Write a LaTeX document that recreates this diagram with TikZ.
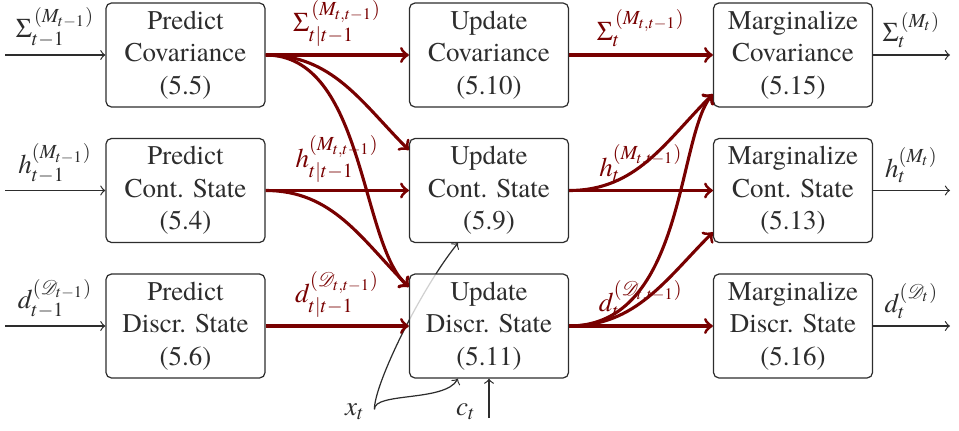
\documentclass[tikz,border=0pt]{standalone}
\usepackage{mathptmx}
\usepackage[no-math]{fontspec}
\setmainfont{TeX Gyre Termes}
\usetikzlibrary{calc}
\definecolor{dred}{RGB}{120,0,0}
\definecolor{dgray}{RGB}{45,45,45}
\tikzset{
  blk/.style={draw=dgray, line width=0.45pt, rounded corners=2pt, fill=white, fill opacity=0.78, text opacity=1,
    text=dgray, align=center, minimum width=58.9pt, minimum height=38.5pt, inner sep=1pt, font=\fontsize{10}{12}\selectfont},
  thinarr/.style={draw=dgray, line width=0.45pt, ->},
  redarr/.style={draw=dred, line width=1.15pt, ->},
  rlab/.style={text=dred, above, inner sep=2.5pt},
  glab/.style={text=dgray, above, inner sep=2.5pt},
}
\begin{document}
\begin{tikzpicture}[x=0.3704pt, y=-0.3704pt]
\useasboundingbox (0,0) rectangle (959,430);
% x_t long path (behind boxes)
\node[text=dgray] (xt) at (355,412) {$x_t$};
\node[text=dgray] (ct) at (466,412) {$c_t$};
\coordinate (cin) at (489,418);
\path (xt.east) ++(0pt,1pt) coordinate (xs);
\draw[thinarr] (xs) .. controls (374,385) and (420,290) .. ($(489,243)+(-31,0)$) coordinate (xe1);
% boxes
\node[blk] (pc) at (185.5,55) {Predict\\Covariance\\(5.5)};
\node[blk] (ph) at (185.5,190.5) {Predict\\Cont. State\\(5.4)};
\node[blk] (pd) at (185.5,326) {Predict\\Discr. State\\(5.6)};
\node[blk] (uc) at (489,55) {Update\\Covariance\\(5.10)};
\node[blk] (uh) at (489,190.5) {Update\\Cont. State\\(5.9)};
\node[blk] (ud) at (489,326) {Update\\Discr. State\\(5.11)};
\node[blk] (mc) at (793,55) {Marginalize\\Covariance\\(5.15)};
\node[blk] (mh) at (793,190.5) {Marginalize\\Cont. State\\(5.13)};
\node[blk] (md) at (793,326) {Marginalize\\Discr. State\\(5.16)};
% x_t short path and c_t
\draw[thinarr] (xs) .. controls (374,392) and (445,402) .. ([xshift=-11.5pt]ud.south);
\draw[thinarr] (cin) -- (ud.south);
% inputs
\coordinate (i1) at (5,55);
\coordinate (i2) at (5,190.5);
\coordinate (i3) at (5,326);
\draw[thinarr] (i1) -- node[glab]{$\Sigma_{t-1}^{\,(M_{t-1})}$} (pc.west);
\draw[thinarr] (i2) -- node[glab]{$h_{t-1}^{(M_{t-1})}$} (ph.west);
\draw[thinarr] (i3) -- node[glab]{$d_{t-1}^{(\mathcal{D}_{t-1})}$} (pd.west);
% outputs
\coordinate (o1) at (950,55);
\coordinate (o2) at (950,190.5);
\coordinate (o3) at (950,326);
\draw[thinarr] (mc.east) -- node[glab]{$\Sigma_{t}^{\,(M_{t})}$} (o1);
\draw[thinarr] (mh.east) -- node[glab]{$h_{t}^{(M_{t})}$} (o2);
\draw[thinarr] (md.east) -- node[glab]{$d_{t}^{(\mathcal{D}_{t})}$} (o3);
% red curves left
\draw[redarr] (pc.east) to[out=0,in=135] ([yshift=-4.5pt]uh.north west);
\draw[redarr] (pc.east) .. controls (365,55) and (360,245) .. ([yshift=-5pt]ud.north west);
\draw[redarr] (ph.east) to[out=0,in=135] ([yshift=-5pt]ud.north west);
% red curves right
\draw[redarr] (uh.east) to[out=0,in=-135] ([yshift=5pt]mc.south west);
\draw[redarr] (ud.east) .. controls (685,326) and (677,136) .. ([yshift=5pt]mc.south west);
\draw[redarr] (ud.east) to[out=0,in=-135] ([yshift=4pt]mh.south west);
% straight red
\draw[redarr] (pc.east) -- node[rlab]{$\Sigma_{t|t-1}^{\,(M_{t,t-1})}$} (uc.west);
\draw[redarr] (ph.east) -- node[rlab]{$h_{t|t-1}^{(M_{t,t-1})}$} (uh.west);
\draw[redarr] (pd.east) -- node[rlab]{$d_{t|t-1}^{(\mathcal{D}_{t,t-1})}$} (ud.west);
\draw[redarr] (uc.east) -- node[rlab]{$\Sigma_{t}^{\,(M_{t,t-1})}$} (mc.west);
\draw[redarr] (uh.east) -- node[rlab]{$h_{t}^{(M_{t,t-1})}$} (mh.west);
\draw[redarr] (ud.east) -- node[rlab]{$d_{t}^{(\mathcal{D}_{t,t-1})}$} (md.west);
\end{tikzpicture}
\end{document}
